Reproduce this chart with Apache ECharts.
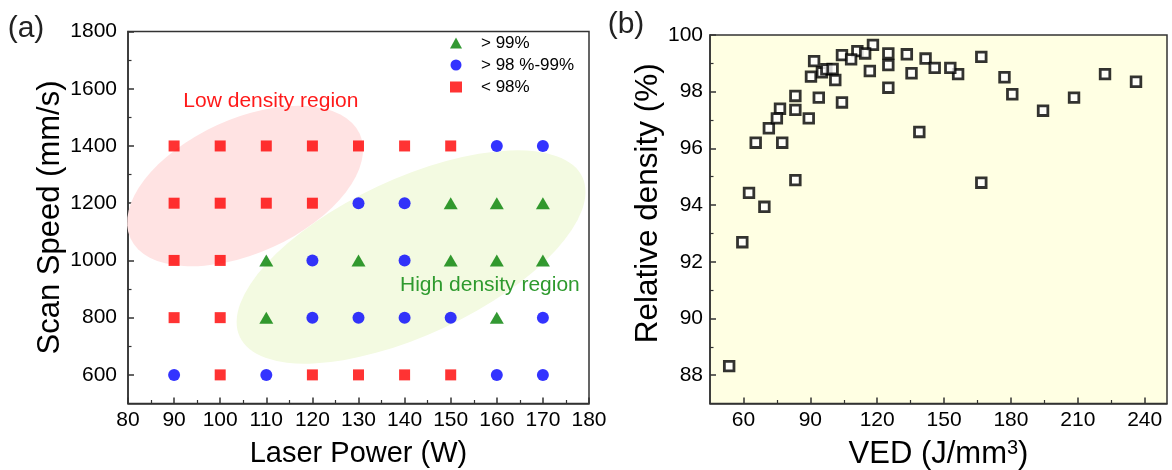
<!DOCTYPE html>
<html>
<head>
<meta charset="utf-8">
<script src="https://cdn.jsdelivr.net/npm/echarts@6/dist/echarts.min.js"></script>
<style>
html,body{margin:0;padding:0;background:#fff}
#main{width:1172px;height:470px}
</style>
</head>
<body>
<div id="main"></div>
<script>
var FONT = "'Liberation Sans', Arial, sans-serif";

// (a) process window: laser power x scan speed
var powers = [90, 100, 110, 120, 130, 140, 150, 160, 170];
var speeds = [1400, 1200, 1000, 800, 600];
// H: > 99%, M: 98-99%, L: < 98%   (one row per scan speed, same order as speeds)
var row1400 = ['L','L','L','L','L','L','L','M','M'];
var row1200 = ['L','L','L','L','M','M','H','H','H'];
var row1000 = ['L','L','H','M','H','M','H','H','H'];
var row800  = ['L','L','H','M','M','M','M','H','M'];
var row600  = ['M','L','M','L','L','L','L','M','M'];
var classRows = [row1400, row1200, row1000, row800, row600];

// (b) relative density vs VED, rows follow speeds above
var ved1400 = [53.6, 59.5, 65.5, 71.4, 77.4, 83.3, 89.3, 95.2, 101.2];
var rd1400  = [88.32, 92.69, 96.20, 96.71, 96.20, 94.88, 97.06, 98.68, 98.41];
var ved1200 = [62.5, 69.4, 76.4, 83.3, 90.3, 97.2, 104.2, 111.1, 118.1];
var rd1200  = [94.43, 93.94, 97.40, 97.36, 98.53, 98.79, 99.29, 99.43, 99.65];
var ved1000 = [75.0, 83.3, 91.7, 100.0, 108.3, 116.7, 125.0, 133.3, 141.7];
var rd1000  = [97.06, 97.85, 99.08, 98.80, 99.14, 98.73, 99.35, 99.32, 99.17];
var ved800  = [93.8, 104.2, 114.6, 125.0, 135.4, 145.8, 156.3, 166.7, 177.1];
var rd800   = [97.79, 97.62, 99.35, 98.94, 98.65, 98.84, 98.62, 99.23, 98.51];
var ved600  = [125.0, 138.9, 152.8, 166.7, 180.6, 194.4, 208.3, 222.2, 236.1];
var rd600   = [98.14, 96.58, 98.84, 94.79, 97.91, 97.33, 97.79, 98.62, 98.35];

// tick labels
var yTicksA = [600, 800, 1000, 1200, 1400, 1600, 1800];
var yMinorA = [700, 900, 1100, 1300, 1500, 1700];
var xTicksB = [60, 90, 120, 150, 180, 210, 240];
var xMinorB = [75, 105, 135, 165, 195, 225];
var yTicksB = [88, 90, 92, 94, 96, 98, 100];
var yMinorB = [89, 91, 93, 95, 97, 99];

function classPoints(code) {
    var out = [];
    for (var i = 0; i < classRows.length; ++i) {
        for (var j = 0; j < powers.length; ++j) {
            if (classRows[i][j] === code) out.push([powers[j], speeds[i]]);
        }
    }
    return out;
}

var vedAll = ved1400.concat(ved1200, ved1000, ved800, ved600);
var rdAll = rd1400.concat(rd1200, rd1000, rd800, rd600);
var pointsB = vedAll.map(function (v, i) { return [v, rdAll[i]]; });

var lineStyle = {color: '#333', width: 1.5};
var minorStyle = {color: '#333', width: 1.2};
var plain = function (v) { return String(v); };
var tickLabel = {fontSize: 21, color: '#000', fontFamily: FONT, formatter: plain};
function title(size, extra) {
    return Object.assign({fontSize: size, color: '#000', fontFamily: FONT}, extra || {});
}

var chart = echarts.init(document.getElementById('main'), null, {renderer: 'canvas'});

var option = {
    animation: false,
    backgroundColor: '#fff',
    grid: [
        {left: 128, top: 31.5, width: 461, height: 372, show: true,
         borderColor: '#333', borderWidth: 1.5, containLabel: false, outerBoundsMode: 'none'},
        {left: 710, top: 35, width: 457, height: 368.5, show: true,
         backgroundColor: '#FFFFE3', borderColor: '#333', borderWidth: 1.5,
         containLabel: false, outerBoundsMode: 'none'}
    ],
    legend: {
        orient: 'vertical', left: 445, top: 29.5,
        itemWidth: 12, itemHeight: 11, itemGap: 5,
        selectedMode: false,
        textStyle: {fontSize: 17, color: '#000', fontFamily: FONT, padding: [0, 0, 0, 14]},
        data: ['> 99%', '> 98 %-99%', '< 98%']
    },
    xAxis: [
        {   // (a) laser power
            gridIndex: 0, type: 'value', min: 80, max: 180, interval: 10,
            name: 'Laser Power (W)', nameLocation: 'middle', nameGap: 36,
            nameTextStyle: title(29),
            axisLine: {show: true, lineStyle: lineStyle},
            axisTick: {show: true, inside: true, length: 6, lineStyle: lineStyle},
            minorTick: {show: true, splitNumber: 2, length: 3.5, lineStyle: minorStyle},
            axisLabel: Object.assign({margin: 6}, tickLabel),
            splitLine: {show: false}
        },
        {   // (b) VED
            gridIndex: 1, type: 'value', min: 45, max: 250,
            name: 'VED (J/mm{sup|3})', nameLocation: 'middle', nameGap: 35,
            nameTextStyle: title(31, {rich: {sup: {fontSize: 20, color: '#000', fontFamily: FONT, verticalAlign: 'top'}}}),
            axisLine: {show: true, lineStyle: lineStyle},
            axisTick: {show: true, inside: true, length: 6, lineStyle: lineStyle, customValues: xTicksB},
            axisLabel: Object.assign({margin: 6, customValues: xTicksB}, tickLabel),
            splitLine: {show: false}
        },
        {   // (b) minor ticks
            gridIndex: 1, type: 'value', min: 45, max: 250, position: 'bottom',
            axisLine: {show: false},
            axisTick: {show: true, inside: true, length: 3.5, lineStyle: minorStyle, customValues: xMinorB},
            axisLabel: {show: false},
            splitLine: {show: false}
        }
    ],
    yAxis: [
        {   // (a) scan speed
            gridIndex: 0, type: 'value', min: 500, max: 1800, position: 'left',
            name: 'Scan Speed (mm/s)', nameLocation: 'middle', nameGap: 61,
            nameTextStyle: title(31),
            axisLine: {show: true, lineStyle: lineStyle},
            axisTick: {show: true, inside: true, length: 6, lineStyle: lineStyle, customValues: yTicksA},
            axisLabel: Object.assign({margin: 11, customValues: yTicksA}, tickLabel),
            splitLine: {show: false}
        },
        {   // (a) minor ticks
            gridIndex: 0, type: 'value', min: 500, max: 1800, position: 'left', offset: 0,
            axisLine: {show: false},
            axisTick: {show: true, inside: true, length: 3.5, lineStyle: minorStyle, customValues: yMinorA},
            axisLabel: {show: false},
            splitLine: {show: false}
        },
        {   // (b) relative density
            gridIndex: 1, type: 'value', min: 87, max: 100, position: 'left',
            name: 'Relative density (%)', nameLocation: 'middle', nameGap: 45,
            nameTextStyle: title(31.5, {padding: [0, 0, 0, 32]}),
            axisLine: {show: true, lineStyle: lineStyle},
            axisTick: {show: true, inside: true, length: 6, lineStyle: lineStyle, customValues: yTicksB},
            axisLabel: Object.assign({margin: 7, customValues: yTicksB}, tickLabel),
            splitLine: {show: false}
        },
        {   // (b) minor ticks
            gridIndex: 1, type: 'value', min: 87, max: 100, position: 'left', offset: 0,
            axisLine: {show: false},
            axisTick: {show: true, inside: true, length: 3.5, lineStyle: minorStyle, customValues: yMinorB},
            axisLabel: {show: false},
            splitLine: {show: false}
        }
    ],
    series: [
        {name: '> 99%', type: 'scatter', xAxisIndex: 0, yAxisIndex: 0, z: 3,
         symbol: 'triangle', symbolSize: [14, 12], itemStyle: {color: '#008000'},
         data: classPoints('H')},
        {name: '> 98 %-99%', type: 'scatter', xAxisIndex: 0, yAxisIndex: 0, z: 3,
         symbol: 'circle', symbolSize: 12, itemStyle: {color: '#0000FF'},
         data: classPoints('M')},
        {name: '< 98%', type: 'scatter', xAxisIndex: 0, yAxisIndex: 0, z: 3,
         symbol: 'rect', symbolSize: 11, itemStyle: {color: '#FF0000'},
         data: classPoints('L')},
        {name: 'density', type: 'scatter', xAxisIndex: 1, yAxisIndex: 2, z: 3,
         symbol: 'rect', symbolSize: 9.6,
         itemStyle: {color: '#fff', borderColor: '#000', borderWidth: 2.8},
         data: pointsB}
    ]
};
chart.setOption(option);

// region shading and labels for (a), placed in data coordinates
function at(p) { return chart.convertToPixel({gridIndex: 0}, p); }
var lowC = at([105.4, 1260]), highC = at([141.4, 1012]);
var lowT = at([111.0, 1557]), highT = at([158.5, 914]);
var deg = Math.PI / 180;

chart.setOption({
    graphic: [
        {type: 'circle', x: lowC[0], y: lowC[1], shape: {cx: 0, cy: 0, r: 67},
         scaleX: 126 / 67, rotation: 24.5 * deg, z: 1, silent: true,
         style: {fill: '#FFE3E3'}},
        {type: 'circle', x: highC[0], y: highC[1], shape: {cx: 0, cy: 0, r: 78},
         scaleX: 189 / 78, rotation: 25 * deg, z: 1, silent: true,
         style: {fill: '#F3FAE1'}},
        {type: 'text', x: lowT[0], y: lowT[1], z: 2, silent: true,
         style: {text: 'Low density region', fontSize: 21, fontFamily: FONT, fill: '#FF1A1A',
                 align: 'center', verticalAlign: 'middle'}},
        {type: 'text', x: highT[0], y: highT[1], z: 2, silent: true,
         style: {text: 'High density region', fontSize: 21, fontFamily: FONT, fill: '#2E9A2E',
                 align: 'center', verticalAlign: 'middle'}},
        {type: 'text', x: 26, y: 29, z: 2, silent: true,
         style: {text: '(a)', fontSize: 30, fontFamily: FONT, fill: '#222',
                 align: 'center', verticalAlign: 'middle'}},
        {type: 'text', x: 626, y: 25, z: 2, silent: true,
         style: {text: '(b)', fontSize: 30, fontFamily: FONT, fill: '#222',
                 align: 'center', verticalAlign: 'middle'}}
    ]
});
</script>
</body>
</html>
